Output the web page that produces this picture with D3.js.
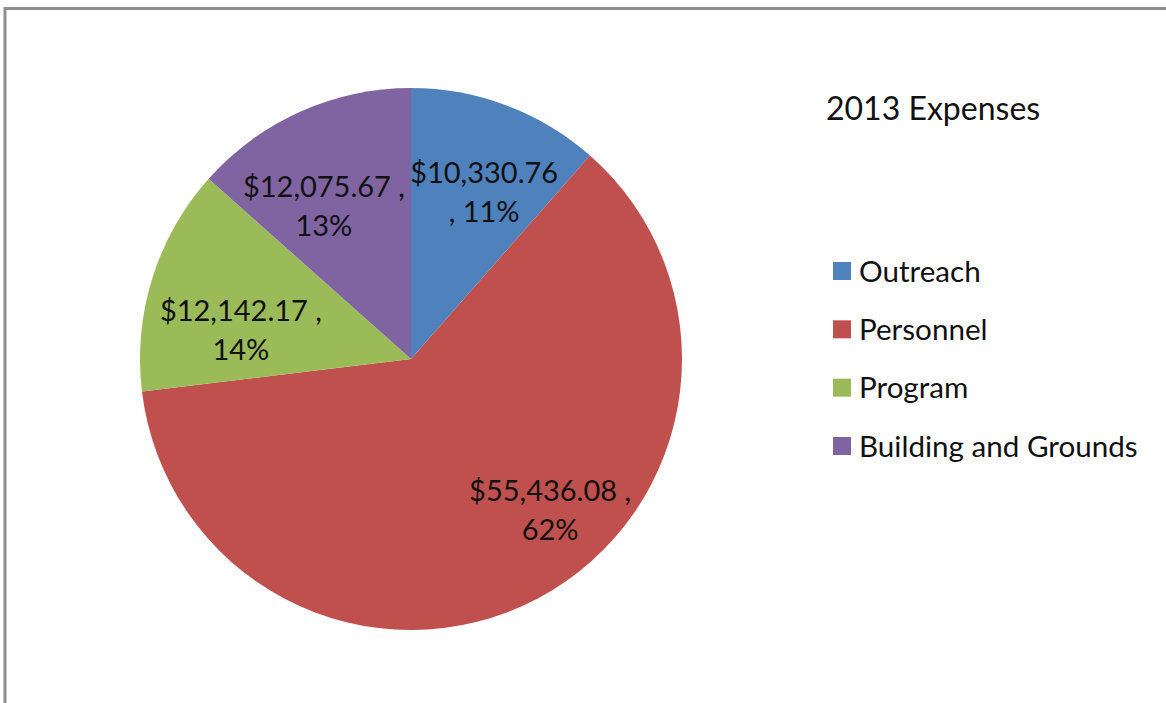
<!DOCTYPE html>
<html>
<head>
<meta charset="utf-8">
<script src="https://cdn.jsdelivr.net/npm/d3@7"></script>
<style>
  body { margin: 0; background: #fff; }
  svg { display: block; }
  text { font-family: Lato, "Open Sans", sans-serif; fill: #111; }
</style>
</head>
<body>
<svg id="chart" width="1166" height="703"></svg>
<script>
// values
var categories = ["Outreach", "Personnel", "Program", "Building and Grounds"];
var amounts = [10330.76, 55436.08, 12142.17, 12075.67];
var percentLabels = ["11%", "62%", "14%", "13%"];
var colors = ["#4F81BD", "#C0504D", "#9BBB59", "#8064A2"];
var chartTitle = "2013 Expenses";

var svg = d3.select("#chart");
var width = +svg.attr("width"), height = +svg.attr("height");

// chart frame (runs off the right and bottom edges)
svg.append("rect")
    .attr("x", 5).attr("y", 8.5)
    .attr("width", width + 20).attr("height", height + 20)
    .attr("fill", "none")
    .attr("stroke", "#8e8e8e")
    .attr("stroke-width", 3);

var cx = 411, cy = 359, radius = 271;

var pie = d3.pie().sort(null).value(function (d) { return d; });
var arcs = pie(amounts);

var arc = d3.arc().innerRadius(0).outerRadius(radius);
var labelArc = d3.arc().innerRadius(radius * 0.65).outerRadius(radius * 0.65);

var g = svg.append("g").attr("transform", "translate(" + cx + "," + cy + ")");

g.selectAll("path.slice")
    .data(arcs)
    .enter()
    .append("path")
    .attr("class", "slice")
    .attr("d", arc)
    .attr("fill", function (d, i) { return colors[i]; });

// Excel's best-fit placement moves labels a little off the centroid
var labelNudge = [[11, -2], [57, -5], [-2, 24], [-15, 8]];
var money = d3.format("$,.2f");

function labelLines(i) {
    var v = money(amounts[i]);
    // the narrow blue slice wraps before the comma
    if (i === 0) return [v, ", " + percentLabels[i]];
    return [v + " ,", percentLabels[i]];
}

var labelSize = 29, lineGap = 39, capHalf = labelSize * 0.36;

var labels = g.selectAll("text.label")
    .data(arcs)
    .enter()
    .append("text")
    .attr("class", "label")
    .attr("text-anchor", "middle")
    .style("font-size", labelSize + "px")
    .attr("transform", function (d, i) {
        var c = labelArc.centroid(d);
        return "translate(" + (c[0] + labelNudge[i][0]) + "," + (c[1] + labelNudge[i][1]) + ")";
    });

labels.each(function (d, i) {
    var t = d3.select(this);
    labelLines(i).forEach(function (line, k) {
        t.append("tspan")
            .attr("x", 0)
            .attr("y", (k === 0 ? -lineGap / 2 : lineGap / 2) + capHalf)
            .text(line);
    });
});

// title
svg.append("text")
    .attr("x", 826).attr("y", 120)
    .style("font-size", "32px")
    .text(chartTitle);

// legend
var legendY = d3.scalePoint().domain(categories).range([271, 446]);

var legend = svg.selectAll("g.legend")
    .data(categories)
    .enter()
    .append("g")
    .attr("class", "legend")
    .attr("transform", function (d) { return "translate(833," + legendY(d) + ")"; });

legend.append("rect")
    .attr("x", 0).attr("y", -9)
    .attr("width", 18).attr("height", 18)
    .attr("fill", function (d, i) { return colors[i]; });

legend.append("text")
    .attr("x", 26).attr("y", 10.5)
    .style("font-size", "29.6px")
    .text(function (d) { return d; });
</script>
</body>
</html>
